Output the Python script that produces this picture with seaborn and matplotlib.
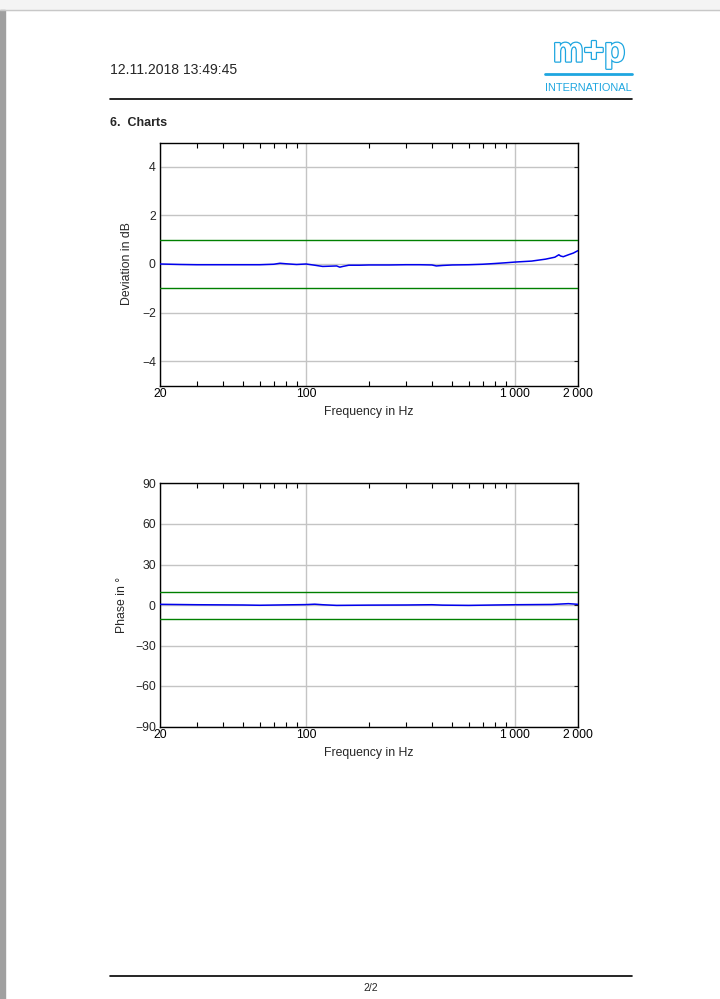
import numpy as np
import pandas as pd
import matplotlib
matplotlib.use("Agg")
import matplotlib.pyplot as plt
import matplotlib.patheffects as pe
from matplotlib.patches import Rectangle
from matplotlib.lines import Line2D
from matplotlib.ticker import FixedLocator, NullFormatter
import seaborn as sns

# deviation curve
freq_dev = [20, 25, 30, 40, 50, 60, 70, 75, 80, 90, 100, 110, 120, 130, 140, 145,
            150, 160, 180, 200, 250, 300, 350, 400, 420, 450, 500, 600, 700, 800,
            900, 1000, 1200, 1400, 1550, 1620, 1650, 1700, 1800, 1900, 2000]
dev_db = [0.0, -0.02, -0.03, -0.03, -0.03, -0.03, -0.01, 0.03, 0.01, -0.02, 0.0,
          -0.05, -0.1, -0.09, -0.08, -0.13, -0.1, -0.05, -0.05, -0.04, -0.04,
          -0.03, -0.03, -0.04, -0.08, -0.06, -0.04, -0.03, -0.01, 0.02, 0.05,
          0.08, 0.12, 0.2, 0.28, 0.38, 0.33, 0.3, 0.38, 0.45, 0.55]

# phase curve
freq_ph = [20, 30, 50, 60, 80, 100, 110, 120, 140, 200, 300, 400, 450, 600,
           800, 1000, 1500, 1800, 2000]
phase_deg = [0.5, 0.2, 0.0, -0.2, 0.1, 0.3, 0.6, 0.2, -0.3, -0.1, 0.0, 0.2,
             -0.1, -0.3, 0.0, 0.2, 0.4, 1.0, 0.5]

dev_limits = [1, -1]
phase_limits = [10, -10]
xticks = [20, 100, 1000, 2000]
xticklabels = ["20", "100", "1\u2009000", "2\u2009000"]
minor_x = [30, 40, 50, 60, 70, 80, 90, 200, 300, 400, 500, 600, 700, 800, 900]

sns.set_style("white")
plt.rcParams["font.family"] = ["Liberation Sans", "DejaVu Sans"]
plt.rcParams["font.size"] = 8.8

W, H = 720, 999
fig = plt.figure(figsize=(W / 100, H / 100), dpi=100)


def px(x, y):
    return x / W, 1 - y / H


# page decoration
fig.patches.append(Rectangle((0, 1 - 9.5 / H), 1, 9.5 / H, transform=fig.transFigure,
                             color="#f4f4f4", zorder=0))
fig.lines.append(Line2D([0, 1], [1 - 9.5 / H] * 2, transform=fig.transFigure,
                        color="#c8c8c8", lw=1))
fig.patches.append(Rectangle((0, 0), 5 / W, 1 - 10 / H, transform=fig.transFigure,
                             color="#a0a0a0", zorder=0))

fig.text(*px(110, 70), "12.11.2018 13:49:45", fontsize=10.1, va="center", ha="left")
fig.text(*px(110, 123), "6.  Charts", fontsize=9, fontweight="bold", va="center", ha="left")
fig.lines.append(Line2D([110 / W, 632 / W], [1 - 99 / H] * 2, transform=fig.transFigure,
                        color="black", lw=1.2))
fig.lines.append(Line2D([110 / W, 632 / W], [1 - 976 / H] * 2, transform=fig.transFigure,
                        color="black", lw=1.2))
fig.text(*px(371, 988), "2/2", fontsize=7.5, ha="center", va="center")

# logo
cyan = "#1ea6e0"
fig.text(*px(589, 52), "m+p", fontsize=25, fontweight="bold", color="white",
         ha="center", va="center",
         path_effects=[pe.withStroke(linewidth=1.8, foreground=cyan)])
fig.lines.append(Line2D([545 / W, 632 / W], [1 - 74 / H] * 2, transform=fig.transFigure,
                        color=cyan, lw=2))
fig.text(*px(588.5, 88), "INTERNATIONAL", fontsize=7.9, color=cyan,
         ha="center", va="center")


def make_axes(top_px, freq, vals, limits, ylim, yticks, ylabel, labelpad):
    l, b = px(160, top_px + 243)
    ax = fig.add_axes([l, b, 418 / W, 243 / H])
    df = pd.DataFrame({"f": freq, "v": vals})
    for lim in limits:
        ax.axhline(lim, color="#008000", lw=1, zorder=3)
    sns.lineplot(data=df, x="f", y="v", ax=ax, color="#0000ee", lw=1.1, zorder=4)
    ax.set_xscale("log")
    ax.set_xlim(20, 2000)
    ax.set_ylim(*ylim)
    ax.set_yticks(yticks)
    ax.set_yticklabels([("\u2212" + str(abs(t))) if t < 0 else str(t) for t in yticks])
    ax.xaxis.set_major_locator(FixedLocator(xticks))
    ax.set_xticklabels(xticklabels)
    ax.xaxis.set_minor_locator(FixedLocator(minor_x))
    ax.xaxis.set_minor_formatter(NullFormatter())
    ax.grid(True, which="major", color="#c4c4c4", lw=1)
    ax.tick_params(axis="x", which="both", direction="in", top=True, bottom=True,
                   length=3.5, width=0.8, pad=2, colors="black")
    ax.tick_params(axis="x", which="major", length=0)
    ax.tick_params(axis="y", which="major", direction="in", left=False, right=True,
                   length=3, width=0.8, pad=3)
    for s in ax.spines.values():
        s.set_color("black")
        s.set_linewidth(1)
    ax.set_xlabel("Frequency in Hz", labelpad=4)
    ax.set_ylabel(ylabel, labelpad=labelpad)
    return ax


make_axes(142.5, freq_dev, dev_db, dev_limits, (-5, 5), [-4, -2, 0, 2, 4],
          "Deviation in dB", 6.5)
make_axes(483.5, freq_ph, phase_deg, phase_limits, (-90, 90),
          [-90, -60, -30, 0, 30, 60, 90], "Phase in \u00b0", 5)

fig.savefig("out.png", dpi=100)
